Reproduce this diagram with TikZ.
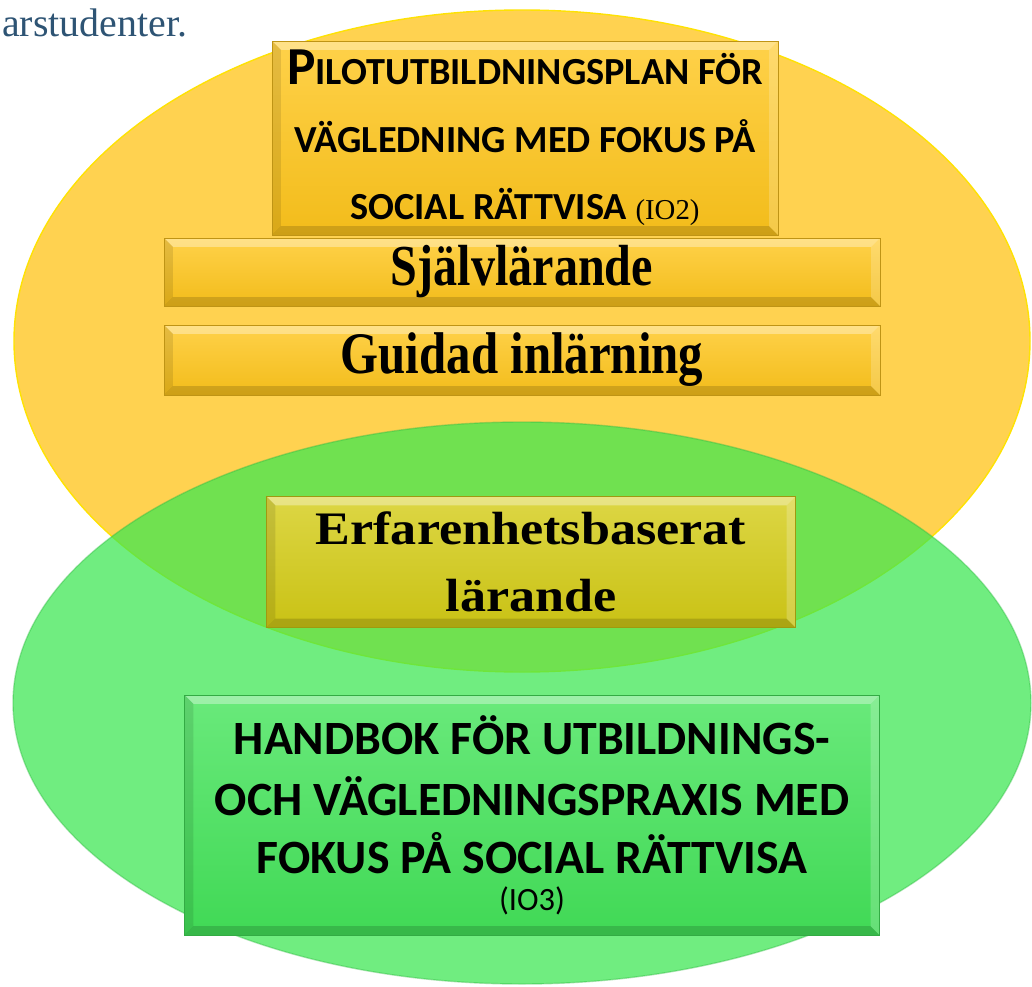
\documentclass[tikz,border=0pt]{standalone}
\usepackage{fontspec}
\usepackage{xcolor}
\newfontfamily\calib{Carlito}
\newfontfamily\serifplain{Liberation Serif}
\newfontfamily\serifnarrow[FakeStretch=0.83]{Liberation Serif}
\newfontfamily\serifwide[FakeStretch=1.12]{Liberation Serif}
\definecolor{ovalgold}{RGB}{255,210,80}
\definecolor{ovalgreen}{RGB}{59,231,81}
\definecolor{boxgold}{RGB}{255,198,28}
\definecolor{boxolive}{RGB}{212,204,22}
\definecolor{boxgreen}{RGB}{68,228,90}
\definecolor{pagetext}{RGB}{46,84,116}

\begin{document}
\begin{tikzpicture}[x=0.02cm,y=-0.02cm,
  bevel/.style={path picture={
    \coordinate (bsw) at (path picture bounding box.south west);
    \coordinate (bne) at (path picture bounding box.north east);
    \coordinate (bnw) at (bsw|-bne);
    \coordinate (bse) at (bsw-|bne);
    \fill[white,opacity=.35] (bnw) -- (bne) -- ([shift={(-5pt,-5pt)}]bne) -- ([shift={(5pt,-5pt)}]bnw) -- cycle;
    \fill[white,opacity=.2] (bne) -- (bse) -- ([shift={(-5pt,5pt)}]bse) -- ([shift={(-5pt,-5pt)}]bne) -- cycle;
    \fill[black,opacity=.15] (bse) -- (bsw) -- ([shift={(5pt,5pt)}]bsw) -- ([shift={(-5pt,5pt)}]bse) -- cycle;
    \fill[black,opacity=.1] (bsw) -- (bnw) -- ([shift={(5pt,-5pt)}]bnw) -- ([shift={(5pt,5pt)}]bsw) -- cycle;
  }},
  plate/.style={rectangle,top color=#1!80!white,bottom color=#1!95!black,
    draw=#1!75!black,line width=0.4pt,bevel,inner sep=0pt,align=center,text=black},
  oval/.style={line width=0.8pt}]

  \useasboundingbox (0,0) rectangle (1032,987);

  \node[anchor=base west,text=pagetext,font=\serifplain\fontsize{22.7}{26}\selectfont]
    (pagetxt) at (-4,36) {arstudenter.};

  % gul ellips
  \fill[oval,ovalgold,draw=yellow!85!orange] (522,341) ellipse [x radius=508, y radius=331];

  \node[plate=boxgold,minimum width=10.12cm,minimum height=3.88cm,
    font=\calib\bfseries\fontsize{21.8}{38.5}\selectfont] (plan) at (525,138)
    {{\fontsize{30.4}{38.5}\selectfont P}ILOTUTBILDNINGSPLAN FÖR\\
     VÄGLEDNING MED FOKUS PÅ\\
     SOCIAL RÄTTVISA {\serifplain\mdseries\fontsize{16.4}{38.5}\selectfont (IO2)}};
  \node[plate=boxgold,minimum width=14.32cm,minimum height=1.36cm,
    font=\serifnarrow\bfseries\fontsize{33}{36}\selectfont] (self) at (522,272) {Självlärande};
  \node[plate=boxgold,minimum width=14.32cm,minimum height=1.4cm,
    font=\serifnarrow\bfseries\fontsize{33.5}{36}\selectfont] (guided) at (522,360) {Guidad inlärning};

  % grön ellips
  \fill[oval,ovalgreen,fill opacity=.73,draw=ovalgreen!80!black,draw opacity=.4] (522,703) ellipse [x radius=509, y radius=281];

  \node[plate=boxolive,minimum width=10.58cm,minimum height=2.62cm,
    font=\serifwide\bfseries\fontsize{26.5}{37}\selectfont] (exp) at (531,562)
    {\raisebox{1.5pt}{Erfarenhetsbaserat}\\lärande};
  \node[plate=boxgreen,minimum width=13.9cm,minimum height=4.8cm,
    font=\calib\bfseries\fontsize{27.2}{33}\selectfont] (hand) at (532,815)
    {\raisebox{2pt}{HANDBOK FÖR UTBILDNINGS-}\\
     OCH VÄGLEDNINGSPRAXIS MED\\
     FOKUS PÅ SOCIAL RÄTTVISA\\[-12pt]
     {\mdseries\fontsize{18.5}{20}\selectfont (IO3)}};
\end{tikzpicture}
\end{document}
